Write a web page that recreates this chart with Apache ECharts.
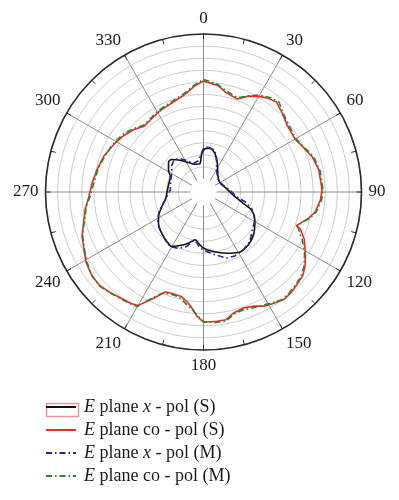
<!DOCTYPE html>
<html>
<head>
<meta charset="utf-8">
<style>
  html, body { margin: 0; padding: 0; background: #ffffff; }
  #chart { width: 399px; height: 500px; }
</style>
<script src="https://cdn.jsdelivr.net/npm/echarts@6/dist/echarts.min.js"></script>
</head>
<body>
<div id="chart"></div>
<script>
// Angle tick labels (degrees)
const angleTicks = [0, 30, 60, 90, 120, 150, 180, 210, 240, 270, 300, 330];

// Series names
const seriesNames = [
  'E plane x - pol (S)',
  'E plane co - pol (S)',
  'E plane x - pol (M)',
  'E plane co - pol (M)'
];

// E plane co-pol (S) - red
const coSAngles = [0, 8, 13, 20, 25, 30, 34, 39, 45, 51, 60, 65, 72, 79, 89, 94, 100, 104, 108, 110, 111, 115, 121, 126, 130, 135, 139, 143, 148, 152, 156, 161, 166, 170, 174, 180, 183, 185, 188, 192, 198, 201, 205, 210, 213, 218, 223, 228, 233, 239, 244, 250, 257, 262, 268, 275, 282, 290, 297, 304, 312, 318, 322, 330, 335, 342, 349, 355, 360];
const coSValues = [-19.4, -21.0, -23.3, -24.4, -21.6, -19.7, -18.4, -17.4, -19.3, -21.0, -21.6, -20.4, -18.1, -16.8, -16.3, -16.9, -18.4, -20.5, -23.3, -24.5, -22.4, -19.4, -16.2, -13.4, -11.7, -10.9, -10.2, -9.8, -11.0, -11.9, -13.7, -14.6, -13.8, -11.7, -11.6, -11.5, -13.9, -16.5, -19.1, -21.2, -21.4, -21.0, -17.0, -11.1, -10.4, -9.7, -8.6, -7.6, -7.6, -8.7, -10.4, -11.9, -14.6, -16.0, -18.0, -19.2, -20.4, -21.6, -23.2, -24.6, -26.7, -28.7, -28.5, -27.5, -27.0, -26.0, -24.3, -21.5, -19.4];

// E plane co-pol (M) - green
const coMAngles = [0, 7, 13, 20, 26, 30, 35, 40, 45, 52, 60, 66, 72, 80, 89, 94, 100, 104, 107, 110, 112, 116, 121, 126, 131, 135, 140, 144, 148, 152, 157, 161, 166, 170, 175, 180, 183, 186, 189, 193, 198, 202, 206, 210, 214, 219, 224, 228, 234, 239, 245, 251, 257, 263, 268, 275, 283, 290, 297, 305, 312, 318, 323, 330, 336, 342, 349, 355, 360];
const coMValues = [-18.8, -20.3, -22.6, -23.9, -21.0, -19.0, -17.6, -16.8, -18.9, -20.6, -21.2, -19.9, -17.5, -16.3, -15.9, -16.4, -18.0, -20.0, -22.8, -23.9, -22.8, -19.9, -16.6, -13.8, -12.0, -11.3, -10.5, -10.3, -11.4, -12.4, -13.3, -14.0, -13.3, -11.2, -11.1, -11.8, -14.3, -16.9, -18.6, -20.7, -21.0, -20.2, -16.4, -10.7, -10.0, -9.3, -8.2, -7.3, -7.9, -9.1, -10.9, -12.4, -15.0, -16.5, -18.5, -19.8, -20.8, -22.0, -22.8, -24.2, -26.2, -28.2, -28.0, -27.0, -26.4, -25.5, -23.8, -21.0, -18.8];

// E plane x-pol (S) - black
const xSAngles = [2, 8.5, 16.6, 24.5, 44, 60.5, 81, 95.7, 105.9, 110.5, 118.5, 129.3, 139.8, 150.1, 159.3, 170.6, 180.2, 185.7, 190, 196.5, 205, 210.2, 216.6, 225.3, 233.8, 241.4, 250.7, 258.3, 267.9, 281.3, 294.6, 302, 310.8, 315.7, 323.7, 332.9, 343.1, 353, 357.3, 2];
const xSValues = [-47.4, -47.2, -48.8, -51.7, -56.7, -57.6, -55.8, -53.1, -48.3, -44.2, -41.2, -38.4, -36.7, -36.5, -38.3, -40.4, -42.2, -44.1, -45.3, -43.3, -40.8, -39.3, -39.9, -41.1, -42.3, -44.2, -47.1, -49.2, -50.2, -50.6, -50.3, -48.3, -46.3, -46.6, -49.1, -51.7, -53.4, -53.5, -49.5, -47.4];

// E plane x-pol (M) - blue
const xMAngles = [6.1, 15.3, 22.4, 30.9, 51, 70.6, 85.7, 98, 103.1, 108.7, 118.5, 127.7, 136.9, 145.5, 153.8, 160.7, 169.7, 177, 183.6, 187.7, 191.8, 197.1, 203.9, 211.5, 218.7, 228.9, 238.8, 247.8, 258.3, 273.4, 290.1, 302.6, 310.3, 317.9, 325.1, 333.9, 340.5, 350.6, 359.8, 6.1];
const xMValues = [-46.6, -47.5, -51.2, -54.9, -57.6, -56.8, -54.5, -51.6, -47.8, -44.4, -41.2, -39.8, -37.3, -36.3, -35.9, -36.4, -39.0, -40.7, -42.1, -44.3, -44.9, -41.8, -39.8, -38.9, -40.0, -41.5, -43.1, -45.7, -49.2, -51.6, -51.0, -49.8, -48.2, -47.3, -48.5, -51.2, -52.9, -52.3, -47.4, -46.6];

function pairs(angles, values) {
  return angles.map((a, i) => [values[i], a]);
}

const serif = '"Liberation Serif", "DejaVu Serif", serif';
const chart = echarts.init(document.getElementById('chart'), null, { renderer: 'canvas' });

// circle colours: innermost (hole edge) hidden, the rest light grey
const circleColors = ['rgba(0,0,0,0)'].concat(new Array(12).fill('#cdcdcd'));

const option = {
  backgroundColor: '#ffffff',
  animation: false,
  polar: [
    { center: [203.5, 192], radius: [13, 158] },
    { center: [203.5, 192], radius: [0, 158] }
  ],
  angleAxis: [
    {
      polarIndex: 0, type: 'value', min: 0, max: 360, interval: 30,
      startAngle: 90, clockwise: true,
      axisLine: { show: false }, axisTick: { show: false }, axisLabel: { show: false },
      splitLine: { show: true, lineStyle: { color: '#8c8c8c', width: 1 } }
    },
    {
      polarIndex: 1, type: 'value', min: 0, max: 360, interval: 30,
      startAngle: 90, clockwise: true, z: 5,
      axisLine: { show: true, lineStyle: { color: '#2a2a2a', width: 1.6 } },
      axisTick: { show: true, inside: true, length: 5, lineStyle: { color: '#2a2a2a', width: 1 } },
      minorTick: { show: true, splitNumber: 2, length: 5, lineStyle: { color: '#2a2a2a', width: 1 } },
      axisLabel: {
        show: true, margin: 7, color: '#1a1a1a', fontSize: 17, fontFamily: serif,
        formatter: function (v) { return angleTicks.indexOf(v) >= 0 ? String(v) : ''; }
      },
      splitLine: { show: false }
    }
  ],
  radiusAxis: [
    {
      polarIndex: 0, type: 'value', min: -60, max: 0, interval: 5,
      axisLine: { show: false }, axisTick: { show: false }, axisLabel: { show: false },
      splitLine: { show: true, lineStyle: { color: circleColors, width: 1 } }
    },
    {
      polarIndex: 1, type: 'value', min: 0, max: 1,
      axisLine: { show: false }, axisTick: { show: false }, axisLabel: { show: false },
      splitLine: { show: false }
    }
  ],
  legend: {
    orient: 'vertical', left: 45, top: 398, padding: 0,
    itemWidth: 30, itemHeight: 12, itemGap: 5,
    data: seriesNames,
    itemStyle: { opacity: 0 },
    textStyle: {
      fontFamily: serif, fontSize: 18, color: '#1a1a1a', padding: [0, 0, 0, 3],
      rich: { i: { fontStyle: 'italic', fontFamily: serif, fontSize: 18, color: '#1a1a1a' } }
    },
    formatter: function (name) {
      return name.replace(/^E /, '{i|E} ').replace(' x ', ' {i|x} ');
    }
  },
  graphic: [
    {
      type: 'circle', z: 1, silent: true,
      shape: { cx: 203.5, cy: 192, r: 13 },
      style: { fill: '#ffffff', stroke: 'none' }
    },
    {
      type: 'rect', left: 44, top: 401, z: -1, silent: true,
      shape: { width: 32, height: 13 },
      style: { fill: 'none', stroke: '#e89a9a', lineWidth: 1.5 }
    }
  ],
  series: [
    {
      name: seriesNames[0], type: 'line', coordinateSystem: 'polar', polarIndex: 0, symbol: 'none', smooth: 0.3,
      data: pairs(xSAngles, xSValues), z: 3,
      lineStyle: { color: '#111111', width: 1.6 }, itemStyle: { color: '#111111' }
    },
    {
      name: seriesNames[1], type: 'line', coordinateSystem: 'polar', polarIndex: 0, symbol: 'none',
      data: pairs(coSAngles, coSValues), z: 3,
      lineStyle: { color: '#ee2a24', width: 1.6 }, itemStyle: { color: '#ee2a24' }
    },
    {
      name: seriesNames[2], type: 'line', coordinateSystem: 'polar', polarIndex: 0, symbol: 'none',
      data: pairs(xMAngles, xMValues), z: 4,
      lineStyle: { color: '#26269a', width: 1.6, type: [6, 3, 1.5, 3] }, itemStyle: { color: '#26269a' }
    },
    {
      name: seriesNames[3], type: 'line', coordinateSystem: 'polar', polarIndex: 0, symbol: 'none',
      data: pairs(coMAngles, coMValues), z: 4,
      lineStyle: { color: '#1f8a36', width: 1.6, type: [6, 3, 1.5, 3] }, itemStyle: { color: '#1f8a36' }
    }
  ]
};
chart.setOption(option);
</script>
</body>
</html>
